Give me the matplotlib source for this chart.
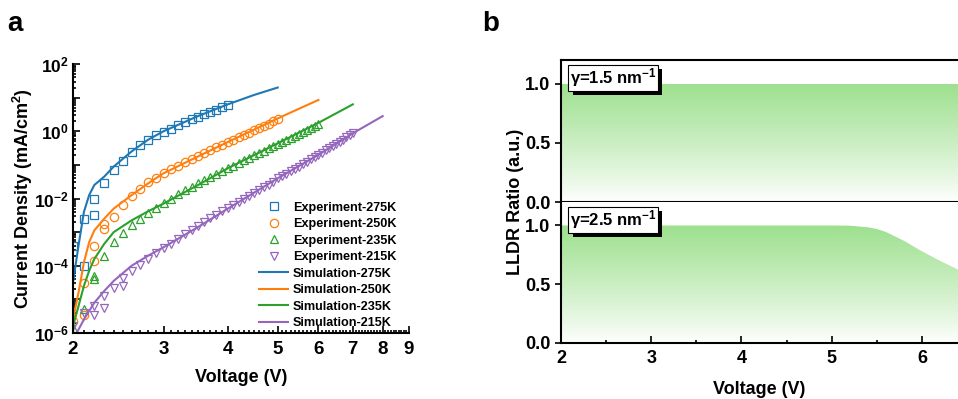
import numpy as np
import matplotlib
matplotlib.use("Agg")
import matplotlib.pyplot as plt
from matplotlib import patheffects
from matplotlib.ticker import FixedLocator, LogLocator, NullFormatter, FuncFormatter

plt.rcParams["font.family"] = ["Liberation Sans", "DejaVu Sans"]
plt.rcParams["font.weight"] = "bold"
plt.rcParams["axes.labelweight"] = "bold"
plt.rcParams["mathtext.fontset"] = "custom"
plt.rcParams["mathtext.bf"] = "Liberation Sans:bold"
plt.rcParams["mathtext.rm"] = "Liberation Sans:bold"
plt.rcParams["mathtext.default"] = "bf"

# ---- panel a: J-V data (log10 of current density, mA/cm^2) ----
exp275_v = [2.0, 2.1, 2.1, 2.2, 2.2, 2.3, 2.4, 2.5, 2.6, 2.7, 2.8, 2.9, 3.0, 3.1, 3.2,
            3.3, 3.4, 3.5, 3.6, 3.7, 3.8, 3.9, 4.0]
exp275_logj = [-3.4, -2.6, -4.0, -2.0, -2.5, -1.55, -1.15, -0.87, -0.62, -0.42, -0.25, -0.12,
               -0.02, 0.08, 0.18, 0.27, 0.35, 0.43, 0.50, 0.57, 0.64, 0.71, 0.78]

exp250_v = [2.0, 2.1, 2.1, 2.2, 2.2, 2.3, 2.3, 2.4, 2.5, 2.6, 2.7, 2.8, 2.9, 3.0, 3.1, 3.2,
            3.3, 3.4, 3.5, 3.6, 3.7, 3.8, 3.9, 4.0, 4.1, 4.2, 4.3, 4.4, 4.5, 4.6, 4.7, 4.8,
            4.9, 5.0]
exp250_logj = [-5.65, -5.45, -4.5, -3.85, -3.4, -2.9, -2.75, -2.55, -2.2, -1.92, -1.72, -1.52,
               -1.38, -1.25, -1.13, -1.02, -0.92, -0.82, -0.73, -0.64, -0.56, -0.48, -0.40,
               -0.32, -0.25, -0.18, -0.11, -0.04, 0.03, 0.10, 0.17, 0.23, 0.30, 0.37]

exp235_v = [2.0, 2.1, 2.2, 2.2, 2.3, 2.4, 2.5, 2.6, 2.7, 2.8, 2.9, 3.0, 3.1, 3.2, 3.3, 3.4,
            3.5, 3.6, 3.7, 3.8, 3.9, 4.0, 4.1, 4.2, 4.3, 4.4, 4.5, 4.6, 4.7, 4.8, 4.9, 5.0,
            5.1, 5.2, 5.3, 5.4, 5.5, 5.6, 5.7, 5.8, 5.9, 6.0]
exp235_logj = [-5.85, -5.3, -4.3, -4.4, -3.72, -3.3, -3.02, -2.8, -2.6, -2.43, -2.28, -2.14,
               -2.0, -1.88, -1.76, -1.65, -1.55, -1.45, -1.35, -1.26, -1.18, -1.10, -1.02,
               -0.94, -0.86, -0.79, -0.72, -0.65, -0.58, -0.51, -0.44, -0.37, -0.31, -0.25,
               -0.19, -0.13, -0.07, -0.01, 0.05, 0.11, 0.17, 0.22]

exp215_v = [2.0, 2.1, 2.2, 2.2, 2.3, 2.3, 2.4, 2.5, 2.5, 2.6, 2.7, 2.8, 2.9, 3.0, 3.1, 3.2,
            3.3, 3.4, 3.5, 3.6, 3.7, 3.8, 3.9, 4.0, 4.1, 4.2, 4.3, 4.4, 4.5, 4.6, 4.7, 4.8,
            4.9, 5.0, 5.1, 5.2, 5.3, 5.4, 5.5, 5.6, 5.7, 5.8, 5.9, 6.0, 6.1, 6.2, 6.3, 6.4,
            6.5, 6.6, 6.7, 6.8, 6.9, 7.0]
exp215_logj = [-5.8, -5.4, -5.45, -5.2, -5.25, -4.9, -4.65, -4.6, -4.35, -4.15, -3.98, -3.8,
               -3.63, -3.48, -3.34, -3.2, -3.07, -2.94, -2.82, -2.7, -2.59, -2.48, -2.38,
               -2.28, -2.19, -2.10, -2.01, -1.92, -1.83, -1.75, -1.67, -1.59, -1.51, -1.40,
               -1.33, -1.26, -1.19, -1.12, -1.05, -0.98, -0.91, -0.84, -0.77, -0.70, -0.64,
               -0.57, -0.51, -0.44, -0.38, -0.31, -0.25, -0.18, -0.12, -0.06]

sim275_v = [2.0, 2.05, 2.1, 2.15, 2.2, 2.3, 2.4, 2.6, 2.8, 3.0, 3.5, 4.0, 4.5, 5.0]
sim275_logj = [-4.5, -3.4, -2.4, -1.9, -1.6, -1.35, -1.05, -0.6, -0.25, 0.0, 0.45, 0.8, 1.08, 1.3]

sim250_v = [2.0, 2.05, 2.1, 2.15, 2.2, 2.3, 2.4, 2.6, 2.8, 3.0, 3.5, 4.0, 4.5, 5.0, 5.5, 6.0]
sim250_logj = [-5.6, -4.8, -3.9, -3.3, -2.95, -2.6, -2.3, -1.9, -1.55, -1.25, -0.75, -0.32,
               0.05, 0.38, 0.67, 0.93]

sim235_v = [2.0, 2.05, 2.1, 2.15, 2.2, 2.3, 2.4, 2.6, 2.8, 3.0, 3.5, 4.0, 5.0, 6.0, 7.0]
sim235_logj = [-5.8, -5.2, -4.6, -4.15, -3.8, -3.35, -3.0, -2.65, -2.38, -2.15, -1.6, -1.1,
               -0.36, 0.25, 0.8]

sim215_v = [2.0, 2.1, 2.2, 2.3, 2.4, 2.6, 2.8, 3.0, 3.5, 4.0, 5.0, 6.0, 7.0, 8.0]
sim215_logj = [-6.2, -5.6, -5.1, -4.75, -4.45, -4.0, -3.7, -3.45, -2.85, -2.3, -1.4, -0.7,
               -0.06, 0.45]

temps = ["275K", "250K", "235K", "215K"]
colors = ["#1f77b4", "#ff7f0e", "#2ca02c", "#9467bd"]
markers = ["s", "o", "^", "v"]

# ---- panel b: LLDR ratio ----
lldr_v = [2.0, 3.0, 4.0, 5.0, 5.2, 5.4, 5.5, 5.6, 5.8, 6.0, 6.2, 6.4]
lldr_15 = [1.0, 1.0, 1.0, 1.0, 1.0, 1.0, 1.0, 1.0, 1.0, 1.0, 1.0, 1.0]
lldr_25 = [1.0, 1.0, 1.0, 1.0, 0.998, 0.985, 0.97, 0.945, 0.87, 0.78, 0.70, 0.625]

fig = plt.figure(figsize=(9.58, 3.99), dpi=100)

# ================= panel a =================
ax = fig.add_axes([0.0762, 0.1654, 0.3507, 0.6742])
exps = [(exp275_v, exp275_logj), (exp250_v, exp250_logj), (exp235_v, exp235_logj),
        (exp215_v, exp215_logj)]
sims = [(sim275_v, sim275_logj), (sim250_v, sim250_logj), (sim235_v, sim235_logj),
        (sim215_v, sim215_logj)]
for (v, lj), t, c, m in zip(exps, temps, colors, markers):
    ax.plot(v, 10 ** np.array(lj), ls="none", marker=m, ms=6, mfc="none", mec=c, mew=0.9,
            label="Experiment-" + t)
for (v, lj), t, c in zip(sims, temps, colors):
    ax.plot(v, 10 ** np.array(lj), color=c, lw=1.5, label="Simulation-" + t)

ax.set_xscale("log")
ax.set_yscale("log")
ax.set_xlim(2, 9)
ax.set_ylim(1e-6, 1e2)
ax.set_xticks([2, 3, 4, 5, 6, 7, 8, 9])
ax.set_xticklabels(["2", "3", "4", "5", "6", "7", "8", "9"])
ax.xaxis.set_minor_locator(FixedLocator(np.arange(2.0, 9.01, 0.1)))
ax.xaxis.set_minor_formatter(NullFormatter())
ax.yaxis.set_major_locator(FixedLocator([10.0 ** e for e in range(-6, 3)]))
ax.yaxis.set_major_formatter(FuncFormatter(
    lambda y, p: "10$^{%d}$" % round(np.log10(y)) if round(np.log10(y)) % 2 == 0 else ""))
ax.yaxis.set_minor_locator(LogLocator(base=10, subs=range(2, 10), numticks=20))
ax.yaxis.set_minor_formatter(NullFormatter())
ax.tick_params(which="both", direction="in", labelsize=13.5, width=1.2)
ax.tick_params(axis="y", labelsize=12.5, pad=3)
ax.tick_params(which="major", length=5)
ax.tick_params(which="minor", length=2.5)
ax.tick_params(axis="x", pad=6)
for s in ["top", "right"]:
    ax.spines[s].set_visible(False)
for s in ["left", "bottom"]:
    ax.spines[s].set_linewidth(1.5)
ax.set_xlabel("Voltage (V)", fontsize=13, labelpad=8)
ax.set_ylabel("Current Density (mA/cm$^{2}$)", fontsize=13)
ax.yaxis.set_label_coords(-0.112, 0.5)
ax.legend(loc="lower right", bbox_to_anchor=(0.985, -0.015), frameon=False, fontsize=9.1,
          handlelength=2.3, handletextpad=0.35, labelspacing=0.36, borderaxespad=0.2)
fig.text(0.008, 0.94, "a", fontsize=20, fontweight="bold", va="center")

# ================= panel b =================
green = np.array([157, 224, 142]) / 255.0
ax_top = fig.add_axes([0.5856, 0.4937, 0.4144, 0.3559])
ax_bot = fig.add_axes([0.5856, 0.1404, 0.4144, 0.3534], sharex=ax_top)

grad_y = np.linspace(0, 1, 256)[:, None]
weight = grad_y ** 0.9
img = np.ones((256, 2, 3)) * (1 - weight[..., None]) + green * weight[..., None]

for a, vals, lab in [(ax_top, lldr_15, "γ=1.5 nm$^{-1}$"), (ax_bot, lldr_25, "γ=2.5 nm$^{-1}$")]:
    poly = a.fill_between(lldr_v, 0, vals, facecolor="none", edgecolor="none")
    im = a.imshow(img, extent=[2.0, 6.4, 0, 1.0], origin="lower", aspect="auto",
                  interpolation="bilinear", zorder=1)
    im.set_clip_path(poly.get_paths()[0], transform=a.transData)
    a.set_xlim(2, 6.4)
    a.set_ylim(0, 1.2)
    a.set_yticks([0.0, 0.5, 1.0])
    a.set_yticklabels(["0.0", "0.5", "1.0"])
    a.tick_params(axis="y", direction="out", length=4, width=1.2, labelsize=13)
    a.tick_params(axis="x", direction="in", width=1.2, labelsize=13)
    a.spines["right"].set_visible(False)
    for s in ["left", "bottom", "top"]:
        a.spines[s].set_linewidth(1.5)
    txt = a.text(0.022, 0.955, lab, transform=a.transAxes, fontsize=12, fontweight="bold",
                 va="top", ha="left", zorder=5,
                 bbox=dict(boxstyle="square,pad=0.08", facecolor="white", edgecolor="black",
                           linewidth=0.8))
    txt.get_bbox_patch().set_path_effects([
        patheffects.SimplePatchShadow(offset=(3, -3), shadow_rgbFace="black", alpha=1.0),
        patheffects.Normal()])

ax_top.tick_params(axis="x", which="both", bottom=False, labelbottom=False)
ax_bot.set_xticks([2, 3, 4, 5, 6])
ax_bot.set_xticks([2.5, 3.5, 4.5, 5.5], minor=True)
ax_bot.tick_params(axis="x", which="major", length=5, pad=5)
ax_bot.tick_params(axis="x", which="minor", direction="in", length=2.5, width=1.2)
ax_bot.spines["top"].set_visible(False)
ax_bot.set_xlabel("Voltage (V)", fontsize=13, labelpad=10)
fig.text(0.5386, 0.494, "LLDR Ratio (a.u.)", rotation=90, fontsize=13, fontweight="bold",
         ha="center", va="center")
fig.text(0.503, 0.94, "b", fontsize=20, fontweight="bold", va="center")

fig.savefig("out.png", dpi=100)
